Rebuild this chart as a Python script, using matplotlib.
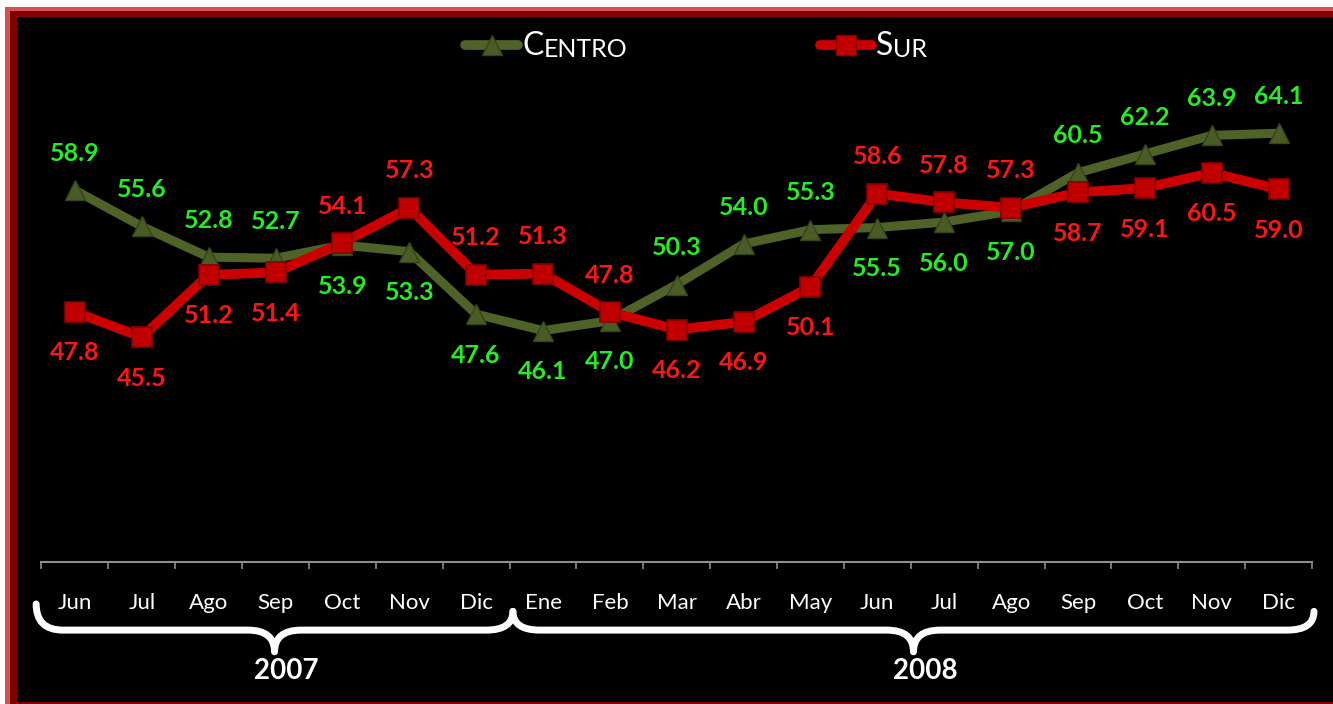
import numpy as np
import matplotlib.pyplot as plt
from matplotlib.lines import Line2D
from matplotlib.patches import Rectangle, PathPatch
from matplotlib.path import Path
import matplotlib.transforms as mtransforms

# Datos
meses = ['Jun', 'Jul', 'Ago', 'Sep', 'Oct', 'Nov', 'Dic', 'Ene', 'Feb', 'Mar',
         'Abr', 'May', 'Jun', 'Jul', 'Ago', 'Sep', 'Oct', 'Nov', 'Dic']
centro = [58.9, 55.6, 52.8, 52.7, 53.9, 53.3, 47.6, 46.1, 47.0, 50.3,
          54.0, 55.3, 55.5, 56.0, 57.0, 60.5, 62.2, 63.9, 64.1]
sur = [47.8, 45.5, 51.2, 51.4, 54.1, 57.3, 51.2, 51.3, 47.8, 46.2,
       46.9, 50.1, 58.6, 57.8, 57.3, 58.7, 59.1, 60.5, 59.0]
# 1: etiqueta arriba, -1: etiqueta abajo
pos_centro = [1, 1, 1, 1, -1, -1, -1, -1, -1, 1, 1, 1, -1, -1, -1, 1, 1, 1, 1]
pos_sur = [-1, -1, -1, -1, 1, 1, 1, 1, 1, -1, -1, -1, 1, 1, 1, -1, -1, -1, -1]
anios = ['2007', '2008']
grupos = [(0, 6), (7, 18)]

FUENTE = 'Lato'
VERDE_LINEA = '#4F6228'
ROJO_LINEA = '#CC0000'
VERDE_TEXTO = '#22EE22'
ROJO_TEXTO = '#FF1414'

W, H = 1333, 704
fig = plt.figure(figsize=(W / 100, H / 100), dpi=100, facecolor='white')

# Marco rojo
fig.patches.append(Rectangle((5 / W, -0.1), 1.2, 1.1 - 7 / H,
                             transform=fig.transFigure, facecolor='#D65252',
                             edgecolor='none', zorder=-3))
fig.patches.append(Rectangle((10 / W, -0.1), 1.2, 1.1 - 11 / H,
                             transform=fig.transFigure, facecolor='#800000',
                             edgecolor='none', zorder=-2))
fig.patches.append(Rectangle((17 / W, 2 / H), 1.2, 1 - 17 / H - 2 / H,
                             transform=fig.transFigure, facecolor='black',
                             edgecolor='none', zorder=-1))

ax = fig.add_axes([41.5 / W, (H - 562) / H, 1270.5 / W, 493.5 / H])
ax.set_facecolor('none')
x = np.arange(len(meses))

ax.plot(x, centro, color=VERDE_LINEA, lw=6.5, marker='^', markersize=15,
        markerfacecolor='#4A5C25', markeredgecolor='#36441A', markeredgewidth=1,
        solid_capstyle='round', zorder=3)
ax.plot(x, sur, color=ROJO_LINEA, lw=7, marker='s', markersize=15,
        markerfacecolor='#C00000', markeredgecolor='#8A0000', markeredgewidth=1.2,
        solid_capstyle='round', zorder=4)

for xi, v, p in zip(x, centro, pos_centro):
    ax.annotate(f'{v:.1f}', (xi, v), xytext=(0, 26.5 if p > 0 else -29.5),
                textcoords='offset points', ha='center', va='center',
                color=VERDE_TEXTO, fontsize=18, fontweight='bold', family=FUENTE,
                zorder=5)
for xi, v, p in zip(x, sur, pos_sur):
    ax.annotate(f'{v:.1f}', (xi, v), xytext=(0, 26.5 if p > 0 else -29.5),
                textcoords='offset points', ha='center', va='center',
                color=ROJO_TEXTO, fontsize=18, fontweight='bold', family=FUENTE,
                zorder=5)

ax.set_xlim(-0.5, len(meses) - 0.5)
ax.set_ylim(25, 70)
ax.set_yticks([])
ax.set_xticks(np.arange(len(meses) + 1) - 0.5)
ax.set_xticklabels([])
ax.set_xticks(x, minor=True)
ax.set_xticklabels(meses, minor=True, color='white', fontsize=16, family=FUENTE)
ax.tick_params(axis='x', which='major', direction='out', length=5, width=1.2,
               color='#8C8C8C')
ax.tick_params(axis='x', which='minor', length=0, pad=22)
for s in ['top', 'left', 'right']:
    ax.spines[s].set_visible(False)
ax.spines['bottom'].set_color('#8C8C8C')
ax.spines['bottom'].set_linewidth(1.5)

# Llaves de los años
trans = mtransforms.blended_transform_factory(ax.transData, ax.transAxes)


def llave(x0, x1, y_ini0, y_ini1, y_banda=-0.138, y_punta=-0.182, w=0.4):
    xm = (x0 + x1) / 2
    verts = [(x0, y_ini0), (x0, y_banda), (x0 + w, y_banda),
             (xm - w, y_banda),
             (xm, y_banda), (xm, y_punta),
             (xm, y_banda), (xm + w, y_banda),
             (x1 - w, y_banda),
             (x1, y_banda), (x1, y_ini1)]
    codes = [Path.MOVETO, Path.CURVE3, Path.CURVE3, Path.LINETO,
             Path.CURVE3, Path.CURVE3, Path.CURVE3, Path.CURVE3,
             Path.LINETO, Path.CURVE3, Path.CURVE3]
    return Path(verts, codes)


extremos = [(-0.58, 6.55, -0.085, -0.10), (6.55, 18.53, -0.10, -0.10)]
for (i0, i1), anio, (x0, x1, ya, yb) in zip(grupos, anios, extremos):
    patch = PathPatch(llave(x0, x1, ya, yb), transform=trans, facecolor='none',
                      edgecolor='white', lw=5, capstyle='round',
                      joinstyle='round', clip_on=False)
    ax.add_patch(patch)
    ax.text((x0 + x1) / 2 + 0.18, -0.221, anio, transform=trans, ha='center',
            va='center', color='white', fontsize=20, fontweight='bold',
            family=FUENTE)


# Leyenda con versalitas
def entrada_leyenda(xa, xb, color, marker, mfc, mec, ms, nombre):
    yl = 1 - 45 / H
    fig.add_artist(Line2D([xa / W, xb / W], [yl, yl], transform=fig.transFigure,
                          color=color, lw=7, solid_capstyle='round'))
    fig.add_artist(Line2D([(xa + xb) / 2 / W], [yl], transform=fig.transFigure,
                          marker=marker, markersize=ms, markerfacecolor=mfc,
                          markeredgecolor=mec, linestyle='none'))
    t1 = fig.text((xb + 4) / W, yl - 0.002, nombre[0], color='white',
                  fontsize=23, family=FUENTE, va='center', ha='left')
    fig.canvas.draw()
    ax.annotate(nombre[1:].upper(), xy=(1, 0), xycoords=t1, va='bottom',
                ha='left', color='white', fontsize=18, family=FUENTE,
                annotation_clip=False)


entrada_leyenda(465, 518, VERDE_LINEA, '^', '#4A5C25', '#36441A', 15, 'Centro')
entrada_leyenda(820, 872, ROJO_LINEA, 's', '#C00000', '#8A0000', 15, 'Sur')

fig.savefig('out.png', dpi=100, facecolor=fig.get_facecolor())
